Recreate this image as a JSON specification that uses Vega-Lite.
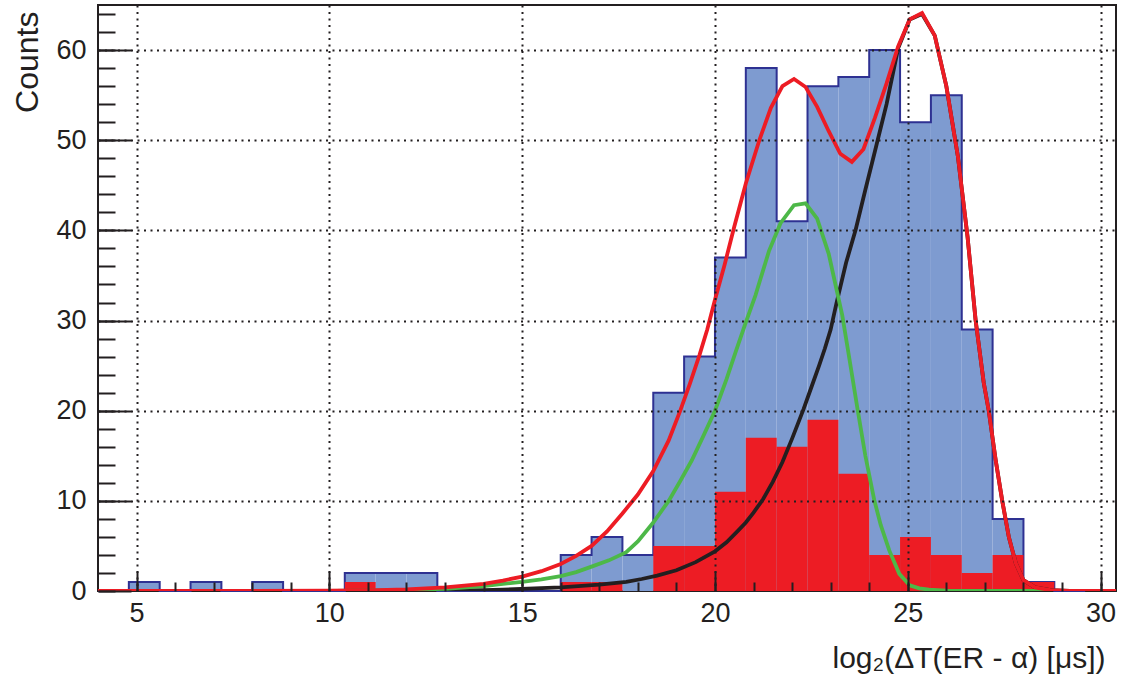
{
  "$schema": "https://vega.github.io/schema/vega-lite/v6.json",
  "width": 1018,
  "height": 586,
  "autosize": {"type": "none"},
  "padding": {"left": 98, "top": 5, "right": 7, "bottom": 93},
  "background": "white",
  "config": {
    "view": {"stroke": "#231f20", "strokeWidth": 2},
    "font": "Liberation Sans"
  },
  "datasets": {
    "hist": [
      {"lo": 4.0, "hi": 4.8, "blue": 0, "red": 0},
      {"lo": 4.8, "hi": 5.6, "blue": 1, "red": 0},
      {"lo": 5.6, "hi": 6.4, "blue": 0, "red": 0},
      {"lo": 6.4, "hi": 7.2, "blue": 1, "red": 0},
      {"lo": 7.2, "hi": 8.0, "blue": 0, "red": 0},
      {"lo": 8.0, "hi": 8.8, "blue": 1, "red": 0},
      {"lo": 8.8, "hi": 9.6, "blue": 0, "red": 0},
      {"lo": 9.6, "hi": 10.4, "blue": 0, "red": 0},
      {"lo": 10.4, "hi": 11.2, "blue": 2, "red": 1},
      {"lo": 11.2, "hi": 12.0, "blue": 2, "red": 0},
      {"lo": 12.0, "hi": 12.8, "blue": 2, "red": 0},
      {"lo": 12.8, "hi": 13.6, "blue": 0, "red": 0},
      {"lo": 13.6, "hi": 14.4, "blue": 0, "red": 0},
      {"lo": 14.4, "hi": 15.2, "blue": 0, "red": 0},
      {"lo": 15.2, "hi": 16.0, "blue": 0, "red": 0},
      {"lo": 16.0, "hi": 16.8, "blue": 4, "red": 1},
      {"lo": 16.8, "hi": 17.6, "blue": 6, "red": 1},
      {"lo": 17.6, "hi": 18.4, "blue": 4, "red": 0},
      {"lo": 18.4, "hi": 19.2, "blue": 22, "red": 5},
      {"lo": 19.2, "hi": 20.0, "blue": 26, "red": 5},
      {"lo": 20.0, "hi": 20.8, "blue": 37, "red": 11},
      {"lo": 20.8, "hi": 21.6, "blue": 58, "red": 17},
      {"lo": 21.6, "hi": 22.4, "blue": 41, "red": 16},
      {"lo": 22.4, "hi": 23.2, "blue": 56, "red": 19},
      {"lo": 23.2, "hi": 24.0, "blue": 57, "red": 13},
      {"lo": 24.0, "hi": 24.8, "blue": 60, "red": 4},
      {"lo": 24.8, "hi": 25.6, "blue": 52, "red": 6},
      {"lo": 25.6, "hi": 26.4, "blue": 55, "red": 4},
      {"lo": 26.4, "hi": 27.2, "blue": 29, "red": 2},
      {"lo": 27.2, "hi": 28.0, "blue": 8, "red": 4},
      {"lo": 28.0, "hi": 28.8, "blue": 1, "red": 1},
      {"lo": 28.8, "hi": 29.6, "blue": 0, "red": 0},
      {"lo": 29.6, "hi": 30.4, "blue": 0, "red": 0}
    ],
    "fits": [
      {"curve": "black", "x": 4, "y": 0}, {"curve": "black", "x": 10, "y": 0.01}, {"curve": "black", "x": 12, "y": 0.03}, {"curve": "black", "x": 14, "y": 0.1},
      {"curve": "black", "x": 14.5, "y": 0.15}, {"curve": "black", "x": 16, "y": 0.4}, {"curve": "black", "x": 17, "y": 0.7}, {"curve": "black", "x": 17.7, "y": 1.0},
      {"curve": "black", "x": 18.1, "y": 1.33}, {"curve": "black", "x": 18.5, "y": 1.7}, {"curve": "black", "x": 19.0, "y": 2.3}, {"curve": "black", "x": 19.5, "y": 3.2},
      {"curve": "black", "x": 20.0, "y": 4.4}, {"curve": "black", "x": 20.3, "y": 5.4}, {"curve": "black", "x": 20.6, "y": 6.7}, {"curve": "black", "x": 20.8, "y": 7.6},
      {"curve": "black", "x": 21.0, "y": 8.7}, {"curve": "black", "x": 21.25, "y": 10.2}, {"curve": "black", "x": 21.5, "y": 12.1}, {"curve": "black", "x": 21.75, "y": 14.3},
      {"curve": "black", "x": 22.0, "y": 16.9}, {"curve": "black", "x": 22.3, "y": 20.2}, {"curve": "black", "x": 22.5, "y": 22.6}, {"curve": "black", "x": 22.7, "y": 25.0},
      {"curve": "black", "x": 22.85, "y": 26.9}, {"curve": "black", "x": 23.0, "y": 29.0}, {"curve": "black", "x": 23.15, "y": 31.9}, {"curve": "black", "x": 23.4, "y": 36.4},
      {"curve": "black", "x": 23.65, "y": 40.1}, {"curve": "black", "x": 23.9, "y": 44.5}, {"curve": "black", "x": 24.15, "y": 48.8}, {"curve": "black", "x": 24.45, "y": 54.0},
      {"curve": "black", "x": 24.75, "y": 60.2}, {"curve": "black", "x": 25.05, "y": 63.4}, {"curve": "black", "x": 25.37, "y": 64.0}, {"curve": "black", "x": 25.7, "y": 61.6},
      {"curve": "black", "x": 26.0, "y": 56.0}, {"curve": "black", "x": 26.3, "y": 48.2}, {"curve": "black", "x": 26.55, "y": 39.3}, {"curve": "black", "x": 26.76, "y": 30.0},
      {"curve": "black", "x": 26.97, "y": 23.1}, {"curve": "black", "x": 27.1, "y": 20.0}, {"curve": "black", "x": 27.28, "y": 14.5}, {"curve": "black", "x": 27.45, "y": 10.0},
      {"curve": "black", "x": 27.62, "y": 6.0}, {"curve": "black", "x": 27.8, "y": 3.1}, {"curve": "black", "x": 28.0, "y": 1.2}, {"curve": "black", "x": 28.3, "y": 0.4},
      {"curve": "black", "x": 28.7, "y": 0.1}, {"curve": "black", "x": 29.2, "y": 0.02}, {"curve": "black", "x": 30.4, "y": 0},
      {"curve": "green", "x": 4, "y": 0}, {"curve": "green", "x": 8, "y": 0.005}, {"curve": "green", "x": 10, "y": 0.02}, {"curve": "green", "x": 11, "y": 0.05},
      {"curve": "green", "x": 12, "y": 0.1}, {"curve": "green", "x": 13, "y": 0.25}, {"curve": "green", "x": 14, "y": 0.55}, {"curve": "green", "x": 14.5, "y": 0.8},
      {"curve": "green", "x": 15, "y": 1.0}, {"curve": "green", "x": 15.5, "y": 1.3}, {"curve": "green", "x": 16, "y": 1.65}, {"curve": "green", "x": 16.4, "y": 2.1},
      {"curve": "green", "x": 16.8, "y": 2.7}, {"curve": "green", "x": 17.25, "y": 3.4}, {"curve": "green", "x": 17.7, "y": 4.3}, {"curve": "green", "x": 18.0, "y": 5.5},
      {"curve": "green", "x": 18.4, "y": 7.6}, {"curve": "green", "x": 18.8, "y": 10.0}, {"curve": "green", "x": 19.1, "y": 12.2}, {"curve": "green", "x": 19.4, "y": 14.5},
      {"curve": "green", "x": 19.7, "y": 17.2}, {"curve": "green", "x": 20.0, "y": 20.0}, {"curve": "green", "x": 20.3, "y": 23.5}, {"curve": "green", "x": 20.55, "y": 26.7},
      {"curve": "green", "x": 20.8, "y": 29.8}, {"curve": "green", "x": 21.05, "y": 32.8}, {"curve": "green", "x": 21.4, "y": 37.7}, {"curve": "green", "x": 21.7, "y": 40.8},
      {"curve": "green", "x": 22.05, "y": 42.8}, {"curve": "green", "x": 22.35, "y": 43.0}, {"curve": "green", "x": 22.65, "y": 41.3}, {"curve": "green", "x": 22.95, "y": 37.4},
      {"curve": "green", "x": 23.15, "y": 33.5}, {"curve": "green", "x": 23.3, "y": 30.6}, {"curve": "green", "x": 23.45, "y": 26.7}, {"curve": "green", "x": 23.7, "y": 20.1},
      {"curve": "green", "x": 23.9, "y": 15.0}, {"curve": "green", "x": 24.13, "y": 10.1}, {"curve": "green", "x": 24.3, "y": 7.3}, {"curve": "green", "x": 24.52, "y": 4.5},
      {"curve": "green", "x": 24.78, "y": 1.9}, {"curve": "green", "x": 25.05, "y": 0.64}, {"curve": "green", "x": 25.3, "y": 0.3}, {"curve": "green", "x": 25.55, "y": 0.15},
      {"curve": "green", "x": 26.0, "y": 0.03}, {"curve": "green", "x": 27, "y": 0}, {"curve": "green", "x": 30.4, "y": 0},
      {"curve": "red", "x": 4.0, "y": 0}, {"curve": "red", "x": 6, "y": 0.003}, {"curve": "red", "x": 8, "y": 0.01}, {"curve": "red", "x": 10, "y": 0.04},
      {"curve": "red", "x": 11, "y": 0.08}, {"curve": "red", "x": 12, "y": 0.17}, {"curve": "red", "x": 13, "y": 0.4}, {"curve": "red", "x": 14, "y": 0.8},
      {"curve": "red", "x": 14.5, "y": 1.15}, {"curve": "red", "x": 15, "y": 1.6}, {"curve": "red", "x": 15.5, "y": 2.2}, {"curve": "red", "x": 16, "y": 3.0},
      {"curve": "red", "x": 16.4, "y": 3.9}, {"curve": "red", "x": 16.8, "y": 5.0}, {"curve": "red", "x": 17.2, "y": 6.6}, {"curve": "red", "x": 17.6, "y": 8.6},
      {"curve": "red", "x": 18, "y": 10.7}, {"curve": "red", "x": 18.4, "y": 13.3}, {"curve": "red", "x": 18.8, "y": 16.7}, {"curve": "red", "x": 19.1, "y": 20.0},
      {"curve": "red", "x": 19.35, "y": 23.0}, {"curve": "red", "x": 19.6, "y": 26.2}, {"curve": "red", "x": 19.8, "y": 29.0}, {"curve": "red", "x": 20.0, "y": 32.3},
      {"curve": "red", "x": 20.25, "y": 36.2}, {"curve": "red", "x": 20.5, "y": 40.4}, {"curve": "red", "x": 20.8, "y": 45.2}, {"curve": "red", "x": 21.15, "y": 50.0},
      {"curve": "red", "x": 21.45, "y": 53.6}, {"curve": "red", "x": 21.75, "y": 56.0}, {"curve": "red", "x": 22.05, "y": 56.8}, {"curve": "red", "x": 22.35, "y": 55.9},
      {"curve": "red", "x": 22.65, "y": 53.7}, {"curve": "red", "x": 22.95, "y": 51.0}, {"curve": "red", "x": 23.25, "y": 48.5}, {"curve": "red", "x": 23.55, "y": 47.6},
      {"curve": "red", "x": 23.85, "y": 49.0}, {"curve": "red", "x": 24.15, "y": 52.5}, {"curve": "red", "x": 24.45, "y": 56.3}, {"curve": "red", "x": 24.75, "y": 60.4},
      {"curve": "red", "x": 25.05, "y": 63.4}, {"curve": "red", "x": 25.37, "y": 64.1}, {"curve": "red", "x": 25.7, "y": 61.6}, {"curve": "red", "x": 26.0, "y": 56.0},
      {"curve": "red", "x": 26.3, "y": 48.2}, {"curve": "red", "x": 26.55, "y": 39.3}, {"curve": "red", "x": 26.76, "y": 30.0}, {"curve": "red", "x": 26.97, "y": 23.1},
      {"curve": "red", "x": 27.1, "y": 20.0}, {"curve": "red", "x": 27.28, "y": 14.5}, {"curve": "red", "x": 27.45, "y": 10.0}, {"curve": "red", "x": 27.62, "y": 6.0},
      {"curve": "red", "x": 27.8, "y": 3.1}, {"curve": "red", "x": 28.0, "y": 1.2}, {"curve": "red", "x": 28.3, "y": 0.4}, {"curve": "red", "x": 28.7, "y": 0.1},
      {"curve": "red", "x": 29.2, "y": 0.02}, {"curve": "red", "x": 30.4, "y": 0}
    ]
  },
  "resolve": {"axis": {"x": "independent", "y": "independent"}},
  "layer": [
    {
      "data": {"name": "hist"},
      "mark": {"type": "rect", "color": "#7e9bd0"},
      "encoding": {
        "x": {"field": "lo", "type": "quantitative",
          "scale": {"domain": [4.0, 30.4], "nice": false, "zero": false},
          "axis": {"orient": "bottom", "grid": true, "gridDash": [2, 4.5], "gridWidth": 2, "gridColor": "#231f20", "gridOpacity": 1,
            "values": [5, 10, 15, 20, 25, 30], "labels": false, "ticks": false, "domain": false, "title": null, "zindex": 1}},
        "x2": {"field": "hi"},
        "y": {"field": "blue", "type": "quantitative",
          "scale": {"domain": [0, 65], "nice": false, "zero": true},
          "axis": {"orient": "left", "grid": true, "gridDash": [2, 4.5], "gridWidth": 2, "gridColor": "#231f20", "gridOpacity": 1,
            "values": [10, 20, 30, 40, 50, 60], "labels": false, "ticks": false, "domain": false, "title": null, "zindex": 1}},
        "y2": {"datum": 0}
      }
    },
    {
      "data": {"name": "hist"},
      "mark": {"type": "line", "interpolate": "step-after", "color": "#2e3192", "strokeWidth": 2},
      "encoding": {
        "x": {"field": "lo", "type": "quantitative",
          "axis": {"orient": "bottom", "values": [5, 10, 15, 20, 25, 30], "ticks": true, "tickSize": -20, "tickWidth": 2, "tickColor": "#231f20", "tickOpacity": 1, "tickCap": "butt",
            "labels": true, "labelFont": "Liberation Sans", "labelFontSize": 27, "labelColor": "#231f20", "labelPadding": 29, "labelFlush": false, "labelOverlap": false,
            "domain": false, "grid": false, "title": null, "zindex": 2}},
        "y": {"field": "blue", "type": "quantitative",
          "axis": {"orient": "left", "values": [0, 10, 20, 30, 40, 50, 60], "ticks": true, "tickSize": -33, "tickWidth": 2, "tickColor": "#231f20", "tickOpacity": 1, "tickCap": "butt",
            "labels": true, "labelFont": "Liberation Sans", "labelFontSize": 27, "labelColor": "#231f20", "labelPadding": 45, "labelFlush": false, "labelOverlap": false,
            "domain": false, "grid": false, "title": null, "zindex": 2}}
      }
    },
    {
      "data": {"name": "hist"},
      "mark": {"type": "rect", "color": "#ed1c24"},
      "encoding": {
        "x": {"field": "lo", "type": "quantitative",
          "axis": {"orient": "bottom", "values": [5, 6, 7, 8, 9, 10, 11, 12, 13, 14, 15, 16, 17, 18, 19, 20, 21, 22, 23, 24, 25, 26, 27, 28, 29, 30],
            "ticks": true, "tickSize": -9, "tickWidth": 2, "tickColor": "#231f20", "tickOpacity": 1, "tickCap": "butt",
            "labels": true, "labelFontSize": 2, "labelOpacity": 0, "labelPadding": 0, "domain": false, "grid": false, "title": null, "zindex": 2}},
        "x2": {"field": "hi"},
        "y": {"field": "red", "type": "quantitative",
          "axis": {"orient": "left", "values": [0, 2, 4, 6, 8, 10, 12, 14, 16, 18, 20, 22, 24, 26, 28, 30, 32, 34, 36, 38, 40, 42, 44, 46, 48, 50, 52, 54, 56, 58, 60, 62, 64],
            "ticks": true, "tickSize": -17, "tickWidth": 2, "tickColor": "#231f20", "tickOpacity": 1, "tickCap": "butt",
            "labels": true, "labelFontSize": 2, "labelOpacity": 0, "labelPadding": 0, "domain": false, "grid": false, "title": null, "zindex": 2}},
        "y2": {"datum": 0}
      }
    },
    {
      "data": {"name": "fits"},
      "mark": {"type": "line", "strokeWidth": 3.8, "clip": true},
      "encoding": {
        "x": {"field": "x", "type": "quantitative",
          "axis": {"orient": "bottom", "values": [5, 10, 15, 20, 25, 30], "ticks": false, "tickSize": 0, "domain": false, "grid": false, "labels": false,
            "title": "log₂(ΔT(ER - α) [μs])", "titleFont": "Liberation Sans", "titleFontSize": 30, "titleFontWeight": "normal", "titleColor": "#231f20",
            "titleX": 1007, "titleY": 76, "titleAlign": "right", "titleBaseline": "alphabetic", "titleAnchor": "end", "zindex": 1}},
        "y": {"field": "y", "type": "quantitative",
          "axis": {"orient": "left", "values": [0, 10, 20, 30, 40, 50, 60], "ticks": false, "tickSize": 0, "domain": false, "grid": false, "labels": false,
            "title": "Counts", "titleFont": "Liberation Sans", "titleFontSize": 32, "titleFontWeight": "normal", "titleColor": "#231f20",
            "titleAngle": 270, "titleX": -61, "titleY": 6, "titleAlign": "right", "titleBaseline": "alphabetic", "titleAnchor": "end", "zindex": 1}},
        "color": {"field": "curve", "type": "nominal",
          "scale": {"domain": ["black", "green", "red"], "range": ["#231f20", "#4db848", "#ed1c24"]},
          "legend": null}
      }
    }
  ]
}
